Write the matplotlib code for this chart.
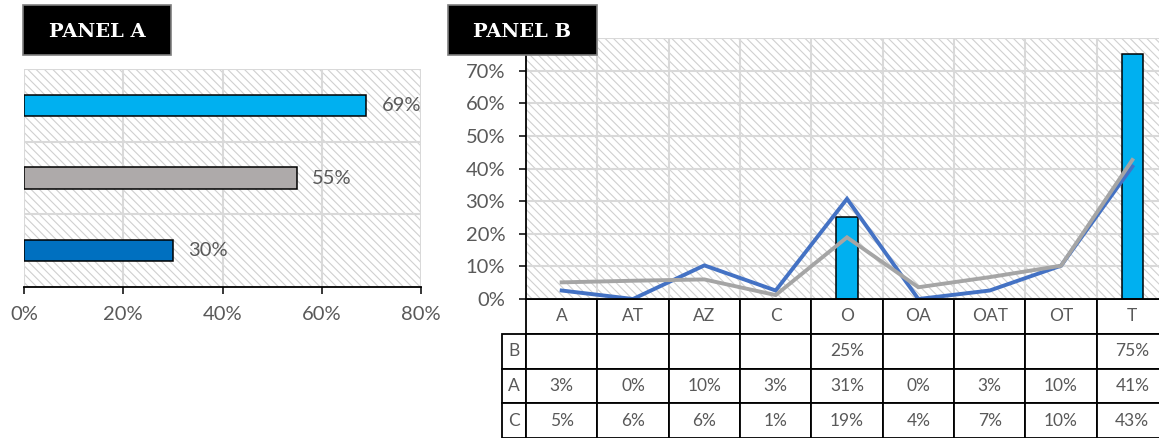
import matplotlib
matplotlib.use("Agg")
import matplotlib.pyplot as plt
from matplotlib.patches import Rectangle
from matplotlib.table import Table
from matplotlib.ticker import FixedLocator, FuncFormatter

plt.rcParams["font.family"] = ["Lato", "DejaVu Sans"]

# Panel A: overall shares (listed bottom to top)
summary_labels = ["A", "C", "B"]
summary_values = [0.30, 0.55, 0.69]
summary_colors = ["#0070C0", "#AEAAAA", "#00B0F0"]

# Panel B: shares by category
categories = ["A", "AT", "AZ", "C", "O", "OA", "OAT", "OT", "T"]
series_b = [None, None, None, None, 0.25, None, None, None, 0.75]
series_a = [0.026, 0.0, 0.103, 0.026, 0.307, 0.0, 0.026, 0.102, 0.406]
series_c = [0.051, 0.056, 0.060, 0.012, 0.189, 0.036, 0.067, 0.102, 0.426]

TEXT = "#595959"
GRID = "#D9D9D9"
HATCH = "#D0D0D0"


def pct(v):
    return f"{round(v * 100):.0f}%"


def hatched_background(ax):
    ax.add_patch(Rectangle((0, 0), 1, 1, transform=ax.transAxes,
                           facecolor="white", edgecolor=HATCH, linewidth=0,
                           hatch="\\\\\\\\", zorder=0.1))


plt.rcParams["hatch.linewidth"] = 0.8

fig = plt.figure(figsize=(11.59, 4.38), dpi=100)
W, H = 1159, 438


def px_axes(l, t, r, b):
    return fig.add_axes([l / W, 1 - b / H, (r - l) / W, (b - t) / H])


# ---------------- Panel A ----------------
axa = px_axes(24, 69, 421, 287)
hatched_background(axa)
ypos = list(range(len(summary_labels)))
axa.barh(ypos, summary_values, height=0.29, color=summary_colors,
         edgecolor="black", linewidth=1.1, zorder=3)
for y, v in zip(ypos, summary_values):
    axa.annotate(pct(v), (v, y), xytext=(11, 0), textcoords="offset points",
                 ha="left", va="center", fontsize=14.5, color=TEXT)
axa.set_xlim(0, 0.8)
axa.set_ylim(-0.5, 2.5)
axa.xaxis.set_major_locator(FixedLocator([0, 0.2, 0.4, 0.6, 0.8]))
axa.xaxis.set_major_formatter(FuncFormatter(lambda v, p: pct(v)))
axa.yaxis.set_major_locator(FixedLocator([0.5, 1.5, 2.5]))
axa.set_yticklabels([])
axa.tick_params(axis="y", length=0)
axa.tick_params(axis="x", direction="out", length=5, width=1.1, color="black",
                labelsize=14.5, labelcolor=TEXT, pad=9)
axa.grid(True, color=GRID, linewidth=1.5)
axa.set_axisbelow(True)
for side in ("left", "top", "right"):
    axa.spines[side].set_visible(False)
axa.spines["bottom"].set_color("black")
axa.spines["bottom"].set_linewidth(1.3)
axa.spines["bottom"].set_zorder(5)

# ---------------- Panel B ----------------
axb = px_axes(526, 38, 1168, 299)
hatched_background(axb)
xpos = list(range(len(categories)))
bx = [x for x, v in zip(xpos, series_b) if v is not None]
bv = [v for v in series_b if v is not None]
axb.bar(bx, bv, width=0.3, color="#00B0F0", edgecolor="black",
        linewidth=1.1, zorder=3)
axb.plot(xpos, series_a, color="#4472C4", linewidth=2.8, zorder=4,
         solid_joinstyle="miter")
axb.plot(xpos, series_c, color="#A5A5A5", linewidth=2.8, zorder=5,
         solid_joinstyle="miter")
axb.set_xlim(-0.5, len(categories) - 0.5)
axb.set_ylim(0, 0.8)
axb.yaxis.set_major_locator(FixedLocator([i / 10 for i in range(9)]))
# the top gridline (80%) carries no label
axb.yaxis.set_major_formatter(FuncFormatter(lambda v, p: "" if v > 0.75 else pct(v)))
axb.xaxis.set_major_locator(FixedLocator([i + 0.5 for i in range(len(categories))]))
axb.set_xticklabels([])
axb.tick_params(axis="x", length=0)
axb.tick_params(axis="y", direction="out", length=5, width=1.1, color="black",
                labelsize=14.5, labelcolor=TEXT, pad=10)
axb.grid(True, color=GRID, linewidth=1.5)
axb.set_axisbelow(True)
for side in ("top", "right"):
    axb.spines[side].set_visible(False)
for side in ("left", "bottom"):
    axb.spines[side].set_color("black")
    axb.spines[side].set_linewidth(1.3)
    axb.spines[side].set_zorder(6)

# data table under panel B (bbox covers the value grid; row labels sit left of it)
plot_w, plot_h = 1168 - 526, 299 - 38
lab_w = 24 / plot_w
tbl_h = 139 / plot_h
col_w = 1 / len(categories)
row_h = tbl_h / 4
tab = Table(axb, bbox=[0, -tbl_h, 1, tbl_h])
for j, cat in enumerate(categories):
    tab.add_cell(0, j, width=col_w, height=row_h, text=cat, loc="center")
for i, (name, vals) in enumerate([("B", series_b), ("A", series_a),
                                  ("C", series_c)], start=1):
    tab.add_cell(i, -1, width=lab_w, height=row_h, text=name, loc="center")
    for j, v in enumerate(vals):
        tab.add_cell(i, j, width=col_w, height=row_h,
                     text="" if v is None else pct(v), loc="center")
tab.auto_set_font_size(False)
tab.set_fontsize(12.5)
for cell in tab.get_celld().values():
    cell.set_linewidth(1.3)
    cell.set_edgecolor("black")
    cell.get_text().set_color(TEXT)
axb.add_table(tab)

# panel captions
for label, (l, t, r, b) in [("PANEL A", (23, 5, 171, 55)),
                            ("PANEL B", (448, 5, 597, 55))]:
    fig.patches.append(Rectangle((l / W, 1 - b / H), (r - l) / W, (b - t) / H,
                                 transform=fig.transFigure, facecolor="black",
                                 edgecolor="#7F7F7F", linewidth=1.2, zorder=10))
    fig.text((l + r) / 2 / W, 1 - (t + b + 4) / 2 / H, label, color="white",
             ha="center", va="center", fontsize=14, fontweight="bold",
             family="DejaVu Serif", zorder=11)

fig.savefig("out.png", dpi=100)
